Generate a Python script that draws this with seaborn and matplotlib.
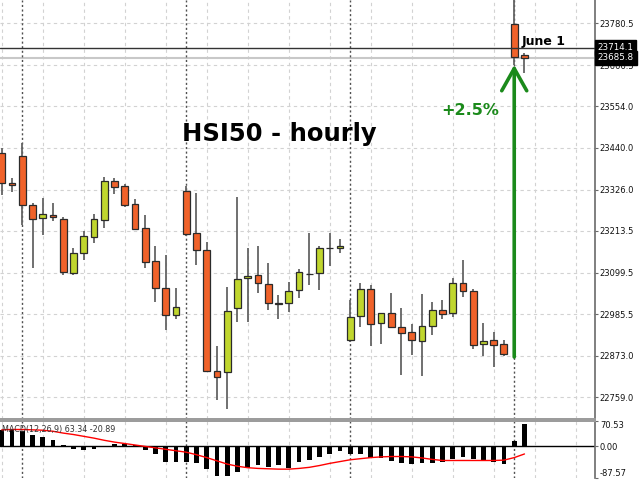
import matplotlib
matplotlib.use('Agg')
import matplotlib.pyplot as plt
import seaborn as sns
import numpy as np
import pandas as pd

# ---------------- data ----------------
opens = [23426, 23344, 23418, 23284, 23249, 23257, 23246, 23098, 23153, 23197,
         23243, 23350, 23336, 23287, 23221, 23131, 23058, 22984, 23322, 23208,
         23161, 22831, 22828, 23003, 23085, 23093, 23068, 23017, 23017, 23052,
         23096, 23098, 23167, 23167, 22916, 22981, 23055, 22962, 22989, 22951,
         22937, 22913, 22954, 22997, 22989, 23071, 23049, 22905, 22916, 22905,
         23778, 23694]
highs = [23440, 23358, 23454, 23290, 23303, 23290, 23251, 23167, 23213, 23260,
         23361, 23358, 23341, 23301, 23257, 23172, 23148, 23058, 23336, 23317,
         23183, 22899, 23060, 23306, 23167, 23172, 23126, 23038, 23074, 23109,
         23208, 23172, 23208, 23191, 23025, 23071, 23066, 22989, 23044, 23003,
         22959, 23041, 23019, 23025, 23085, 23134, 23055, 22962, 22937, 22916,
         23860, 23699]
lows = [23311, 23320, 23230, 23112, 23202, 23240, 23093, 23093, 23134, 23180,
        23221, 23314, 23279, 23216, 23112, 23019, 22943, 22973, 23200, 23120,
        22828, 22752, 22727, 22965, 22965, 23044, 22997, 22973, 22992, 23030,
        23066, 23052, 23118, 23153, 22910, 22951, 22899, 22905, 22948, 22820,
        22875, 22817, 22929, 22973, 22978, 23033, 22891, 22872, 22842, 22872,
        23667, 23645]
closes = [23344, 23339, 23284, 23246, 23260, 23251, 23101, 23153, 23200, 23246,
          23350, 23333, 23284, 23219, 23129, 23058, 22984, 23006, 23205, 23161,
          22831, 22814, 22995, 23082, 23090, 23071, 23017, 23014, 23049, 23101,
          23097, 23167, 23168, 23172, 22978, 23055, 22959, 22989, 22951, 22935,
          22916, 22954, 22997, 22987, 23071, 23049, 22902, 22913, 22902, 22877,
          23688, 23685.8]
macd = [46, 46, 44, 32.6, 26.9, 17.3, 3.8, -6.7, -8.6, -5.8,
        -2, 5.8, 5.8, 2.9, -8.6, -21, -42, -44, -44, -47,
        -63, -81, -83, -71, -61, -52, -57, -52, -61, -44,
        -37, -28, -21, -11.5, -21, -21, -31, -33, -40, -45,
        -50, -47, -47, -42, -35, -28, -35, -37, -42, -50,
        15.4, 63.34]
signal = [46, 47, 47, 46, 45, 42, 37, 33, 28, 23,
          17, 12, 8, 4, 0, -4, -8, -12, -16, -23,
          -31, -40, -49, -55, -59, -61, -62, -63, -63, -61,
          -58, -53, -47, -42, -37, -34, -31, -29, -28, -28,
          -29, -32, -36, -39, -39, -39, -39, -39, -39, -38,
          -31, -20.89]
price_ticks = [23780.5, 23666.5, 23554.0, 23440.0, 23326.0, 23213.5,
               23099.5, 22985.5, 22873.0, 22759.0]
macd_ticks = [70.53, 0.0, -87.57]
macd_tick_labels = ['70.53', '0.00', '-87.57']
day_starts = [2, 18, 34, 50]
user_line_price = 23714.1
bid_price = 23685.8
title_text = 'HSI50 - hourly'
gain_text = '+2.5%'
day_text = 'June 1'
macd_text = 'MACD(12,26,9) 63.34 -20.89'

# ---------------- style ----------------
sns.set_style('white')
plt.rcParams['font.family'] = ['DejaVu Sans']

RED = '#f0622a'
GREEN = '#c0d62e'
ARROW = '#1b8a1b'
GRID = '#d2d2d2'
AXC = '#6a6a6a'

idx = np.arange(len(opens))
df = pd.DataFrame(dict(i=idx, o=opens, h=highs, l=lows, c=closes,
                       macd=macd, signal=signal))

fig = plt.figure(figsize=(6.4, 4.8), dpi=100)
ax = fig.add_axes([0, 61 / 480, 595 / 640, 419 / 480])
ax2 = fig.add_axes([0, 2 / 480, 595 / 640, 57 / 480])

XL = (-0.171, 57.88)

# ---------------- price panel ----------------
up = df.c >= df.o
body_low = np.minimum(df.o, df.c)
body_h = np.maximum(np.abs(df.c - df.o), 0.8)
ax.vlines(df.i, df.l, df.h, color='#646464', lw=1.3, zorder=2)
ax.bar(df.i, body_h, bottom=body_low, width=0.68,
       color=np.where(up, GREEN, RED), edgecolor='#2b2b2b', linewidth=0.9,
       zorder=3)

ax.axhline(user_line_price, color='#333333', lw=1.0, zorder=4)
ax.axhline(bid_price, color='#c8c8c8', lw=1.5, zorder=1)

for d in day_starts:
    ax.axvline(d, color='#505050', lw=1.0, ls=(0, (1.5, 1.8)), zorder=1)
    ax2.axvline(d, color='#505050', lw=1.0, ls=(0, (1.5, 1.8)), zorder=1)

# arrow from the previous close to the low of the gap candle
last = len(opens) - 2
ax.annotate('', xy=(last, lows[last]), xytext=(last, closes[last - 1] - 8),
            arrowprops=dict(arrowstyle='->,head_length=0.8,head_width=0.45',
                            color=ARROW, lw=2.6, mutation_scale=20,
                            shrinkA=0, shrinkB=0), zorder=5)

ax.set_xlim(*XL)
ax.set_ylim(22699.7, 23844.1)
ax.set_xticks(np.arange(0, 57, 4))
ax.set_yticks(price_ticks)
ax.set_yticklabels([f'{t:.1f}' for t in price_ticks])
ax.grid(True, color=GRID, ls=(0, (3, 3)), lw=0.8)
ax.set_axisbelow(True)
ax.yaxis.tick_right()
ax.tick_params(axis='y', which='both', right=True, left=False, direction='out',
               length=2.5, width=0.8, color=AXC, labelsize=6, pad=1,
               labelcolor='#111111')
ax.tick_params(axis='x', bottom=False, labelbottom=False)
for s in ['left', 'top']:
    ax.spines[s].set_visible(False)
ax.spines['right'].set_color(AXC)
ax.spines['right'].set_linewidth(1.2)
ax.spines['bottom'].set_color('#9a9a9a')
ax.spines['bottom'].set_linewidth(1.4)

# price labels in black boxes
for p in [user_line_price, bid_price]:
    ax.annotate(f'{p:.1f}', xy=(1.0, p), xycoords=('axes fraction', 'data'),
                xytext=(2, 0), textcoords='offset points', ha='left',
                va='center', fontsize=6.3, color='white', annotation_clip=False,
                bbox=dict(boxstyle='square,pad=0.3', fc='black', ec='black'),
                zorder=10)

ax.text(0.3054, 0.6635, title_text, transform=ax.transAxes, ha='left',
        va='baseline', fontsize=17.5, fontweight='heavy', color='black')
ax.text(0.742, 0.725, gain_text, transform=ax.transAxes, ha='left',
        va='baseline', fontsize=11.5, fontweight='bold', color=ARROW)
ax.text(0.877, 0.8926, day_text, transform=ax.transAxes, ha='left',
        va='baseline', fontsize=9, fontweight='bold', color='black')

# ---------------- MACD panel ----------------
sns.barplot(data=df, x='i', y='macd', native_scale=True, color='black',
            saturation=1, width=0.45, linewidth=0, ax=ax2, zorder=3)
sns.lineplot(data=df, x='i', y='signal', color='red', lw=1.0, ax=ax2,
             zorder=4)
ax2.axhline(0, color='black', lw=1.0, zorder=2)
ax2.set_xlim(*XL)
ax2.set_ylim(macd_ticks[-1], macd_ticks[0])
ax2.set_xticks(np.arange(0, 57, 4))
ax2.grid(True, axis='x', color=GRID, ls=(0, (3, 3)), lw=0.8)
ax2.set_axisbelow(True)
ax2.set_xlabel('')
ax2.set_ylabel('')
ax2.yaxis.tick_right()
ax2.set_yticks(macd_ticks)
ax2.set_yticklabels(macd_tick_labels)
ax2.tick_params(axis='y', right=True, left=False, direction='out', length=2.5,
                width=0.8, color=AXC, labelsize=6, pad=1, labelcolor='#111111')
ax2.tick_params(axis='x', bottom=False, labelbottom=False)
lbls = ax2.get_yticklabels()
lbls[0].set_va('top')
lbls[-1].set_va('bottom')
for s in ['left', 'bottom']:
    ax2.spines[s].set_visible(False)
ax2.spines['right'].set_color(AXC)
ax2.spines['right'].set_linewidth(1.2)
ax2.spines['top'].set_color('#9a9a9a')
ax2.spines['top'].set_linewidth(1.4)
ax2.text(0.0034, 0.80, macd_text, transform=ax2.transAxes, ha='left',
         va='baseline', fontsize=5.8, color='#333333', zorder=6)

fig.savefig('out.png', dpi=100)
